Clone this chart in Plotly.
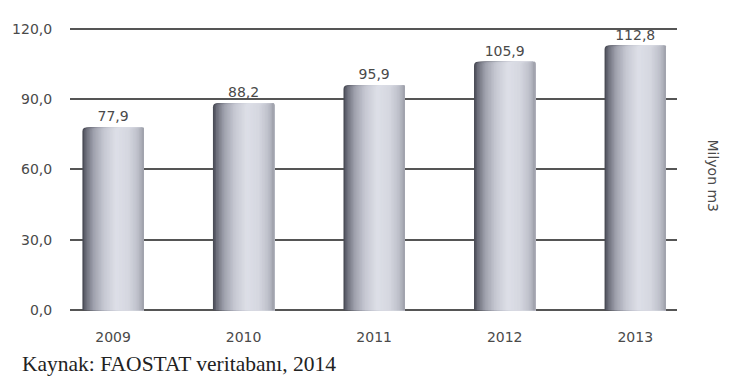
import plotly.graph_objects as go

# Turkey industrial roundwood production, million m3
years = ["2009", "2010", "2011", "2012", "2013"]
values = [77.9, 88.2, 95.9, 105.9, 112.8]
y_ticks = [0, 30, 60, 90, 120]

# horizontal shading profile of the cylinders (left edge -> right edge)
shade_stops = [
    (0.00, (66, 68, 78)),
    (0.06, (108, 110, 122)),
    (0.18, (158, 160, 172)),
    (0.35, (198, 200, 210)),
    (0.55, (221, 223, 231)),
    (0.75, (213, 215, 224)),
    (0.90, (190, 192, 202)),
    (1.00, (158, 160, 170)),
]


def shade(t):
    for (t0, c0), (t1, c1) in zip(shade_stops, shade_stops[1:]):
        if t0 <= t <= t1:
            f = (t - t0) / (t1 - t0)
            r, g, b = (round(a + (bb - a) * f) for a, bb in zip(c0, c1))
            return f"rgb({r},{g},{b})"
    return "rgb(158,160,170)"


bar_w = 0.47
n_strips = 40
strip_w = bar_w / n_strips

fig = go.Figure()
# each strip runs from its own start to the right edge of the cylinder,
# so later strips lie on top of earlier ones without gaps
for i in range(n_strips):
    t = (i + 0.5) / n_strips
    start = i * strip_w
    fig.add_trace(go.Bar(
        x=years, y=values,
        width=bar_w - start,
        offset=-bar_w / 2 + start,
        marker=dict(color=shade(t), line=dict(width=0), cornerradius=4),
        hoverinfo="skip", showlegend=False,
    ))

# value labels above each cylinder
fig.add_trace(go.Bar(
    x=years, y=values, width=bar_w,
    marker=dict(color="rgba(0,0,0,0)", line=dict(width=0)),
    texttemplate="%{y:.1f}", textposition="outside",
    textfont=dict(family="DejaVu Sans", size=14, color="#4a4a4a"),
    constraintext="none", cliponaxis=False,
    hoverinfo="skip", showlegend=False,
))

fig.update_layout(
    width=731, height=383,
    barmode="overlay",
    separators=",.",
    paper_bgcolor="white", plot_bgcolor="white",
    margin=dict(l=68, r=54, t=24, b=61),
    font=dict(family="DejaVu Sans", size=14, color="#4a4a4a"),
    xaxis=dict(
        type="category", range=[-0.33, 4.32],
        showgrid=False, showline=False, zeroline=False,
        tickfont=dict(size=14, color="#4a4a4a"),
        ticks="outside", ticklen=2, tickcolor="rgba(0,0,0,0)",
    ),
    yaxis=dict(
        range=[-5, 122], tickvals=y_ticks, tickformat=".1f",
        showgrid=True, gridcolor="#555", gridwidth=2,
        zeroline=False, showline=False,
        ticks="outside", ticklen=14, tickcolor="rgba(0,0,0,0)",
        tickfont=dict(size=14, color="#4a4a4a"),
    ),
    annotations=[
        dict(text="Milyon m3", textangle=90, xref="paper", yref="paper",
             x=1.075, y=0.49, showarrow=False,
             font=dict(family="DejaVu Sans", size=14, color="#4a4a4a")),
        dict(text="Kaynak: FAOSTAT veritabanı, 2014", xref="paper", yref="paper",
             x=-68 / 609 + 18 / 609, y=-0.14, xanchor="left", yanchor="middle",
             showarrow=False,
             font=dict(family="Liberation Serif", size=21.5, color="#222")),
    ],
)

fig.write_html("out.html")
